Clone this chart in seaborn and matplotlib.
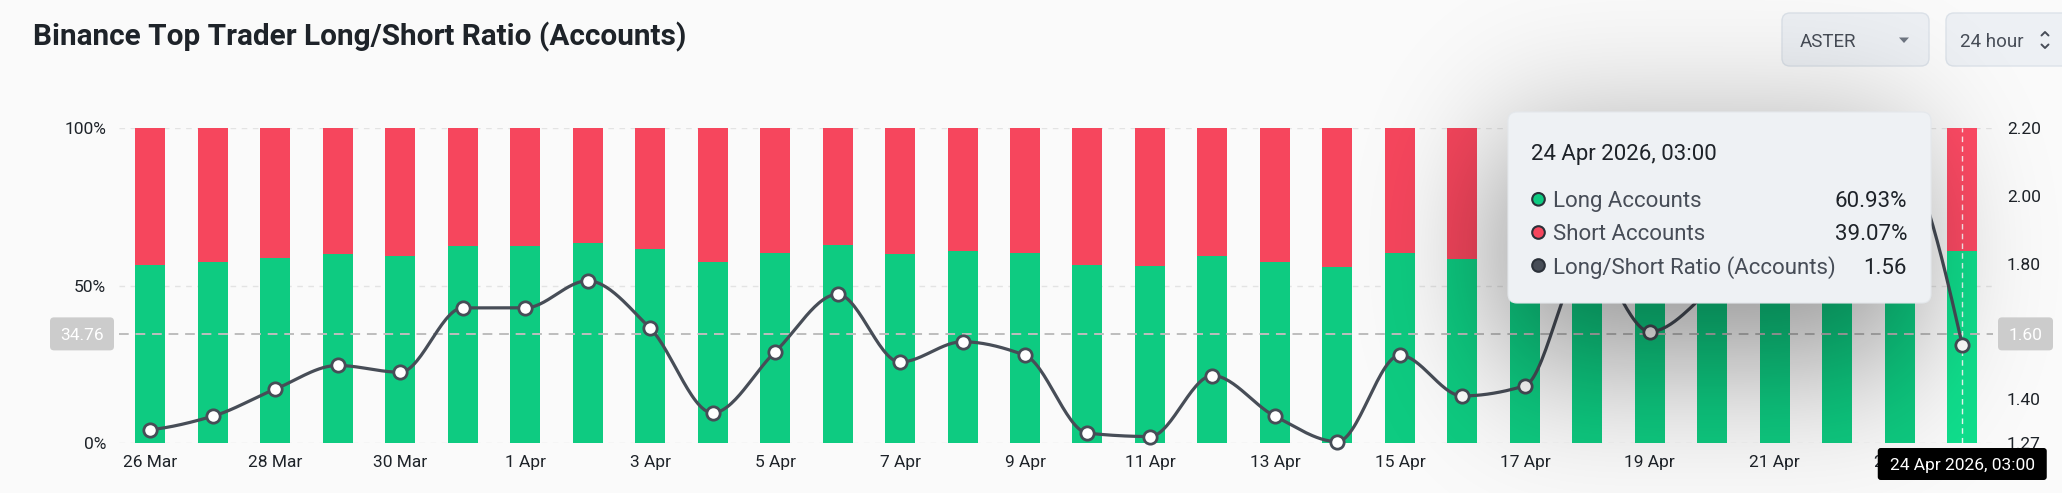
import math
import numpy as np
import pandas as pd
import matplotlib
matplotlib.use("Agg")
import matplotlib.pyplot as plt
import seaborn as sns
from matplotlib.patches import FancyBboxPatch, Circle, Polygon
from matplotlib.lines import Line2D

# ------------------------------------------------------------------ data
dates = ["26 Mar", "27 Mar", "28 Mar", "29 Mar", "30 Mar", "31 Mar",
         "1 Apr", "2 Apr", "3 Apr", "4 Apr", "5 Apr", "6 Apr", "7 Apr",
         "8 Apr", "9 Apr", "10 Apr", "11 Apr", "12 Apr", "13 Apr", "14 Apr",
         "15 Apr", "16 Apr", "17 Apr", "18 Apr", "19 Apr", "20 Apr",
         "21 Apr", "22 Apr", "23 Apr", "24 Apr"]
long_pct = [56.7, 57.5, 58.9, 60.0, 59.6, 62.6, 62.6, 63.6, 61.7, 57.6,
            60.6, 63.1, 60.2, 61.1, 60.5, 56.6, 56.4, 59.6, 57.6, 56.0,
            60.4, 58.6, 59.0, 64.5, 61.5, 63.4, 65.9, 68.7, 68.1, 60.93]
short_pct = [43.3, 42.5, 41.1, 40.0, 40.4, 37.4, 37.4, 36.4, 38.3, 42.4,
             39.4, 36.9, 39.8, 38.9, 39.5, 43.4, 43.6, 40.4, 42.4, 44.0,
             39.6, 41.4, 41.0, 35.5, 38.5, 36.6, 34.1, 31.3, 31.9, 39.07]
ratio = [1.31, 1.35, 1.43, 1.50, 1.48, 1.67, 1.67, 1.75, 1.61, 1.36,
         1.54, 1.71, 1.51, 1.57, 1.53, 1.30, 1.29, 1.47, 1.35, 1.275,
         1.53, 1.41, 1.44, 1.82, 1.60, 1.73, 1.93, 2.20, 2.13, 1.56]

left_ticks = [0, 50, 100]
left_tick_labels = ["0%", "50%", "100%"]
right_ticks = [1.27, 1.40, 1.60, 1.80, 2.00, 2.20]
x_tick_step = 2

hover_index = 29
hover_pct = 34.76
hover_right_label = "1.60"
hover_time = "24 Apr 2026, 03:00"
tooltip_labels = ["Long Accounts", "Short Accounts", "Long/Short Ratio (Accounts)"]
tooltip_values = ["60.93%", "39.07%", "1.56"]

title = "Binance Top Trader Long/Short Ratio (Accounts)"
symbol = "ASTER"
period = "24 hour"

# ------------------------------------------------------------------ style
W, H = 2062, 493
BG = "#FAFAFA"
GREEN, RED = "#0ECB81", "#F6465D"
GREEN_H, RED_H = "#10DF8D", "#FF4B65"
LINE = "#474D57"
TXT = "#1E2329"

sns.set_theme(style="white", rc={"figure.facecolor": BG, "axes.facecolor": BG,
                                 "savefig.facecolor": BG})
plt.rcParams["font.family"] = ["Roboto", "DejaVu Sans"]

fig = plt.figure(figsize=(W / 100, H / 100), dpi=100)
ax_l, ax_r, ax_b, ax_t = 119, 1993.5, 443.3, 128.5
ax = fig.add_axes([ax_l / W, (H - ax_b) / H, (ax_r - ax_l) / W, (ax_b - ax_t) / H])
ax.set_facecolor(BG)

n = len(dates)
df = pd.DataFrame({"date": dates, "long": long_pct,
                   "total": [l + s for l, s in zip(long_pct, short_pct)]})
red_pal = {d: RED for d in dates}
green_pal = {d: GREEN for d in dates}
red_pal[dates[hover_index]] = RED_H
green_pal[dates[hover_index]] = GREEN_H

sns.barplot(data=df, x="date", y="total", hue="date", palette=red_pal,
            order=dates, hue_order=dates, width=0.48, saturation=1,
            legend=False, linewidth=0, ax=ax)
sns.barplot(data=df, x="date", y="long", hue="date", palette=green_pal,
            order=dates, hue_order=dates, width=0.48, saturation=1,
            legend=False, linewidth=0, ax=ax)

ax.set_xlim(-0.5, n - 0.5)
ax.set_ylim(0, 100)
ax.set_yticks(left_ticks)
ax.set_yticklabels(left_tick_labels)
ax.set_xticks(list(range(0, n, x_tick_step)))
ax.set_xticklabels(dates[::x_tick_step])
ax.set_xlabel("")
ax.set_ylabel("")
ax.tick_params(axis="y", length=0, pad=9.4, labelsize=12.5, labelcolor=TXT)
ax.tick_params(axis="x", length=0, pad=8.5, labelsize=12.5, labelcolor=TXT)
ax.yaxis.grid(True, color="#E3E3E3", linestyle=(0, (4, 4)), linewidth=1.0)
ax.xaxis.grid(False)
ax.set_axisbelow(True)
for s in ax.spines.values():
    s.set_visible(False)

# crosshair
ax.axhline(hover_pct, color="#BDBDBD", linestyle=(0, (5, 3.5)), linewidth=1.4, zorder=3)
ax.axvline(hover_index, color="white", alpha=0.9, linestyle=(0, (4, 3)), linewidth=1.0, zorder=3)

# ------------------------------------------------------------------ ratio line
def pchip_curve(y, per=30):
    y = np.asarray(y, float)
    m_ = len(y)
    d = np.diff(y)
    m = np.zeros(m_)
    for k in range(1, m_ - 1):
        if d[k - 1] * d[k] > 0:
            m[k] = 2.0 / (1.0 / d[k - 1] + 1.0 / d[k])

    def end(d0, d1):
        s = (3 * d0 - d1) / 2
        if np.sign(s) != np.sign(d0):
            return 0.0
        if np.sign(d0) != np.sign(d1) and abs(s) > abs(3 * d0):
            return 3 * d0
        return s
    m[0] = end(d[0], d[1])
    m[-1] = end(d[-1], d[-2])
    t = np.linspace(0, 1, per, endpoint=False)
    h00 = 2 * t**3 - 3 * t**2 + 1
    h10 = t**3 - 2 * t**2 + t
    h01 = -2 * t**3 + 3 * t**2
    h11 = t**3 - t**2
    xs, ys = [], []
    for k in range(m_ - 1):
        xs.append(k + t)
        ys.append(h00 * y[k] + h10 * m[k] + h01 * y[k + 1] + h11 * m[k + 1])
    xs.append([m_ - 1])
    ys.append([y[-1]])
    return np.concatenate(xs), np.concatenate(ys)

ax2 = ax.twinx()
xs, ys = pchip_curve(ratio)
sns.lineplot(x=xs, y=ys, ax=ax2, color=LINE, linewidth=2.3, sort=False,
             estimator=None, zorder=3)
sns.scatterplot(x=np.arange(n), y=ratio, ax=ax2, s=92, color="white",
                edgecolor=LINE, linewidth=2.0, zorder=4, clip_on=False)
ax2.set_ylim(right_ticks[0], right_ticks[-1])
ax2.set_yticks(right_ticks)
ax2.set_yticklabels([f"{v:.2f}" for v in right_ticks])
ax2.tick_params(axis="y", length=0, pad=9.6, labelsize=12.5, labelcolor=TXT)
ax2.set_ylabel("")
ax2.grid(False)
for s in ax2.spines.values():
    s.set_visible(False)
ax.set_xlim(-0.5, n - 0.5)

# ------------------------------------------------------------------ overlay (pixel coords)
ov = fig.add_axes([0, 0, 1, 1], zorder=10)
ov.set_xlim(0, W)
ov.set_ylim(H, 0)
ov.axis("off")
ov.patch.set_alpha(0)


def to_px(axis, x, y):
    px, py = axis.transData.transform((x, y))
    return px, H - py


def rbox(x0, y0, x1, y1, r, fc, ec="none", lw=0, z=5):
    ov.add_patch(FancyBboxPatch((x0 + r, y0 + r), (x1 - x0) - 2 * r, (y1 - y0) - 2 * r,
                                boxstyle=f"round,pad={r}", fc=fc, ec=ec, lw=lw, zorder=z))


def ctext(cx, cy, s, fs, color, ha="center", z=7, **kw):
    cap = 0.711 * fs * 100 / 72
    ov.text(cx, cy + cap / 2, s, ha=ha, va="baseline", fontsize=fs, color=color,
            zorder=z, **kw)

# title
t = ov.text(33, 45, title, ha="left", va="baseline", fontsize=19.5,
            fontweight="bold", color=TXT, zorder=7)
r_ = fig.canvas.get_renderer()
bw = t.get_window_extent(r_).width
t.set_fontsize(19.5 * 655 / bw)

# dropdowns
rbox(1782, 13, 1929, 66, 8, "#EDF0F4", ec="#DCE2E9", lw=1.0, z=0.5)
ctext(1800, 40, symbol, 13.5, "#474D57", ha="left", z=0.6)
ov.add_patch(Polygon([[1899, 37.5], [1909, 37.5], [1904, 43]], closed=True,
                     fc="#6F7682", ec="none", zorder=0.6))
rbox(1946, 13, 2090, 66, 8, "#EDF0F4", ec="#DCE2E9", lw=1.0, z=0.5)
ctext(1960, 40, period, 13.5, "#474D57", ha="left", z=0.6)
ov.add_line(Line2D([2041.5, 2045, 2048.5], [35.5, 32, 35.5], color="#474D57", lw=1.4, zorder=0.6))
ov.add_line(Line2D([2041.5, 2045, 2048.5], [44.5, 48, 44.5], color="#474D57", lw=1.4, zorder=0.6))

# tooltip shadow
tx0, ty0, tx1, ty1 = 1508, 112, 1931, 303
erf = np.frompyfunc(math.erf, 1, 1)
xg = np.arange(W) + 0.5
yg = np.arange(H) + 0.5
sx, sy, dx, dy, A = 62.0, 80.0, -14.0, 45.0, 0.47
gx = 0.5 * (erf((xg - (tx0 + dx)) / (math.sqrt(2) * sx)).astype(float)
            - erf((xg - (tx1 + dx)) / (math.sqrt(2) * sx)).astype(float))
gy = 0.5 * (erf((yg - (ty0 + dy)) / (math.sqrt(2) * sy)).astype(float)
            - erf((yg - (ty1 + dy)) / (math.sqrt(2) * sy)).astype(float))
alpha = A * np.outer(gy, gx)
rgba = np.zeros((H, W, 4))
rgba[..., 3] = alpha
ov.imshow(rgba, extent=(0, W, H, 0), origin="upper", interpolation="nearest",
          zorder=1, aspect="auto")
ov.set_xlim(0, W)
ov.set_ylim(H, 0)

# tooltip box
rbox(tx0, ty0, tx1, ty1, 9, "#EEF1F4", ec="#E4E8EC", lw=0.8, z=2)
ov.text(1531, 160, hover_time, ha="left", va="baseline", fontsize=16, color=TXT, zorder=3)
row_base = [207.3, 240.5, 273.5]
dot_cols = [GREEN, RED, LINE]
for lab, val, yb, c in zip(tooltip_labels, tooltip_values, row_base, dot_cols):
    ov.add_patch(Circle((1538.5, yb - 8), 6.3, fc=c, ec="#2B3139", lw=1.5, zorder=3))
    ov.text(1553, yb, lab, ha="left", va="baseline", fontsize=16, color="#474D57", zorder=3)
    ov.text(1907, yb, val, ha="right", va="baseline", fontsize=16, color=TXT, zorder=3)

# crosshair labels
_, yh = to_px(ax, 0, hover_pct)
rbox(50, yh - 16.5, 114, yh + 16.5, 4, "#CCCCCC", z=5)
ctext(82, yh, f"{hover_pct:.2f}", 12.5, "white", z=6)
rbox(1998, yh - 16.5, 2053, yh + 16.5, 4, "#CCCCCC", z=5)
ctext(2025.5, yh, hover_right_label, 12.5, "white", z=6)
xh, _ = to_px(ax, hover_index, 0)
rbox(xh - 84.5, 448, xh + 84.5, 480, 3, "black", z=5)
ctext(xh, 464, hover_time, 12.5, "white", z=6)

fig.savefig("out.png", dpi=100, facecolor=BG)
